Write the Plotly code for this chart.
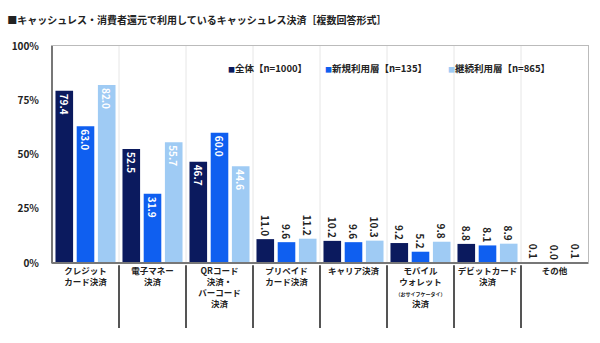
import plotly.graph_objects as go

categories = [
    "クレジット<br>カード決済",
    "電子マネー<br>決済",
    "QRコード<br>決済・<br>バーコード<br>決済",
    "プリペイド<br>カード決済",
    "キャリア決済",
    "モバイル<br>ウォレット<br><span style='font-size:5px'>（おサイフケータイ）</span><br>決済",
    "デビットカード<br>決済",
    "その他",
]
series_names = ["全体【n=1000】", "新規利用層【n=135】", "継続利用層【n=865】"]
all_vals = [79.4, 52.5, 46.7, 11.0, 10.2, 9.2, 8.8, 0.1]
new_vals = [63.0, 31.9, 60.0, 9.6, 9.6, 5.2, 8.1, 0.0]
cont_vals = [82.0, 55.7, 44.6, 11.2, 10.3, 9.8, 8.9, 0.1]
y_ticks = [0, 25, 50, 75, 100]

colors = ["#0b1a5e", "#0f5ff0", "#9fcbf4"]
FONT = "Noto Sans CJK JP"

fig = go.Figure()
for name, vals, col in zip(series_names, [all_vals, new_vals, cont_vals], colors):
    pos = ["inside" if v > 20 else "outside" for v in vals]
    tcol = ["white" if v > 20 else "#222222" for v in vals]
    fig.add_trace(go.Bar(
        x=list(range(len(categories))), y=vals, name=name, showlegend=False,
        marker=dict(color=col, line=dict(width=0)),
        text=[f"{v:.1f}" for v in vals],
        textposition=pos, textangle=90,
        insidetextanchor="end",
        textfont=dict(color=tcol, size=10, family=FONT, weight="bold"),
        constraintext="none", cliponaxis=False,
    ))

# legend drawn as text annotations with small colored squares
legend_x = [0.325, 0.505, 0.735]
for name, col, lx in zip(series_names, colors, legend_x):
    fig.add_annotation(
        xref="paper", yref="paper", x=lx, y=0.9, xanchor="left", yanchor="middle",
        showarrow=False,
        text=f"<span style='color:{col};font-size:7px'>■</span>{name}",
        font=dict(size=9.5, family=FONT, weight="bold", color="#222222"),
    )

for i in range(len(categories) - 1):
    fig.add_shape(type="line", xref="x", yref="paper",
                  x0=i + 0.5, x1=i + 0.5, y0=-0.01, y1=-0.3,
                  line=dict(color="#555555", width=2))
    fig.add_shape(type="line", xref="x", yref="paper", layer="below",
                  x0=i + 0.5, x1=i + 0.5, y0=0, y1=1,
                  line=dict(color="#e6e6e6", width=1))

fig.update_layout(
    width=600, height=343,
    margin=dict(l=52, r=12, t=46, b=80),
    paper_bgcolor="white", plot_bgcolor="white",
    barmode="group", bargap=0.05, bargroupgap=0.17,
    font=dict(family=FONT, color="#222222"),
    title=dict(text="■キャッシュレス・消費者還元で利用しているキャッシュレス決済［複数回答形式］",
               x=0.012, xanchor="left", y=0.94, yanchor="middle",
               font=dict(size=10, family=FONT, weight="bold", color="#222222")),
    showlegend=False,
)
fig.update_xaxes(
    tickmode="array", tickvals=list(range(len(categories))), ticktext=categories,
    range=[-0.5, len(categories) - 0.5], tickangle=0,
    showgrid=False, ticks="", showline=True, linecolor="#bbbbbb", linewidth=1, mirror=True,
    tickfont=dict(size=8.5, family=FONT, weight="bold", color="#222222"),
)
fig.update_yaxes(
    range=[0, 100], tickvals=y_ticks, ticktext=[f"{t}%" for t in y_ticks],
    showgrid=False, showline=True, linecolor="#bbbbbb", linewidth=1, mirror=True,
    ticks="", ticklabelstandoff=10,
    tickfont=dict(size=10, family=FONT, weight="bold", color="#222222"),
)
fig.add_shape(type="line", xref="paper", yref="paper", x0=0, x1=0, y0=0, y1=1,
              line=dict(color="#777777", width=2))
fig.add_shape(type="line", xref="paper", yref="paper", x0=0, x1=1, y0=0, y1=0,
              line=dict(color="#777777", width=2))

fig.write_html("out.html")
